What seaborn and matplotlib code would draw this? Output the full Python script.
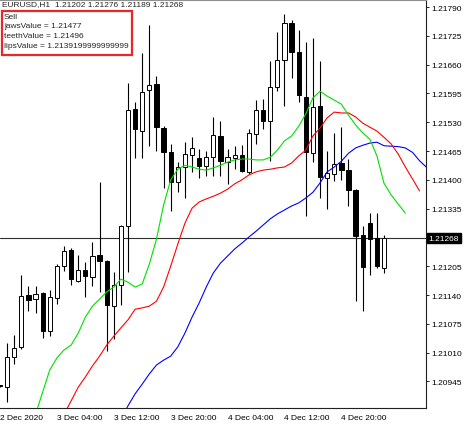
import numpy as np
import matplotlib
matplotlib.use("Agg")
import matplotlib.pyplot as plt
import matplotlib.transforms as mtransforms
from matplotlib.patches import Rectangle
import seaborn as sns

# EURUSD H1 candles (2 Dec 2020 20:00 onward)
opens = [1.20936, 1.20932, 1.21000, 1.21023, 1.21140, 1.21131, 1.21145, 1.21059, 1.21133, 1.21205,
         1.21242, 1.21172, 1.21196, 1.21181, 1.21230, 1.21217, 1.21115, 1.21163, 1.21296, 1.21560,
         1.21510, 1.21603, 1.21616, 1.21517, 1.21463, 1.21395, 1.21429, 1.21456, 1.21449, 1.21431,
         1.21451, 1.21499, 1.21440, 1.21449, 1.21456, 1.21418, 1.21503, 1.21558, 1.21533, 1.21609,
         1.21670, 1.21754, 1.21688, 1.21587, 1.21460, 1.21567, 1.21404, 1.21413, 1.21438, 1.21422,
         1.21377, 1.21275, 1.21302, 1.21269, 1.21202]
highs = [1.20938, 1.21032, 1.21050, 1.21185, 1.21160, 1.21160, 1.21147, 1.21151, 1.21210, 1.21251,
         1.21246, 1.21230, 1.21215, 1.21260, 1.21395, 1.21220, 1.21192, 1.21298, 1.21618, 1.21576,
         1.21686, 1.21749, 1.21634, 1.21521, 1.21481, 1.21440, 1.21485, 1.21497, 1.21470, 1.21465,
         1.21542, 1.21533, 1.21470, 1.21476, 1.21479, 1.21515, 1.21580, 1.21582, 1.21668, 1.21734,
         1.21774, 1.21761, 1.21738, 1.21711, 1.21720, 1.21668, 1.21465, 1.21506, 1.21519, 1.21447,
         1.21379, 1.21296, 1.21326, 1.21326, 1.21276]
lows = [1.20932, 1.20898, 1.20984, 1.21018, 1.21104, 1.21099, 1.21043, 1.21047, 1.21120, 1.21194,
        1.21163, 1.21169, 1.21136, 1.21160, 1.21147, 1.21014, 1.21041, 1.21117, 1.21192, 1.21449,
        1.21449, 1.21476, 1.21465, 1.21381, 1.21330, 1.21372, 1.21359, 1.21418, 1.21404, 1.21409,
        1.21409, 1.21409, 1.21391, 1.21424, 1.21418, 1.21413, 1.21481, 1.21515, 1.21442, 1.21600,
        1.21567, 1.21630, 1.21576, 1.21318, 1.21440, 1.21359, 1.21334, 1.21397, 1.21400, 1.21341,
        1.21126, 1.21104, 1.21186, 1.21201, 1.21189]
closes = [1.20934, 1.21000, 1.21020, 1.21138, 1.21129, 1.21142, 1.21059, 1.21135, 1.21205, 1.21239,
          1.21176, 1.21196, 1.21183, 1.21228, 1.21217, 1.21117, 1.21163, 1.21296, 1.21558, 1.21515,
          1.21598, 1.21614, 1.21519, 1.21463, 1.21395, 1.21429, 1.21458, 1.21472, 1.21431, 1.21451,
          1.21501, 1.21442, 1.21451, 1.21456, 1.21420, 1.21506, 1.21558, 1.21533, 1.21609, 1.21670,
          1.21754, 1.21688, 1.21591, 1.21463, 1.21564, 1.21406, 1.21415, 1.21436, 1.21422, 1.21377,
          1.21273, 1.21203, 1.21266, 1.21205, 1.21268]

# Alligator lines (already shifted forward), first bar index of each
lips_start = 5
lips = [1.20871, 1.20921, 1.20971, 1.20998, 1.21016, 1.21027, 1.21054, 1.21090, 1.21115, 1.21131,
        1.21147, 1.21158, 1.21176, 1.21169, 1.21158, 1.21165, 1.21210, 1.21266, 1.21343, 1.21400,
        1.21424, 1.21433, 1.21429, 1.21424, 1.21422, 1.21427, 1.21433, 1.21440, 1.21445, 1.21447,
        1.21447, 1.21445, 1.21445, 1.21451, 1.21467, 1.21488, 1.21499, 1.21521, 1.21549, 1.21585,
        1.21600, 1.21589, 1.21580, 1.21571, 1.21546, 1.21524, 1.21506, 1.21492, 1.21454, 1.21392,
        1.21366, 1.21345, 1.21325]
teeth_start = 9
teeth = [1.20871, 1.20901, 1.20932, 1.20955, 1.20980, 1.21002, 1.21027, 1.21047, 1.21066, 1.21084,
         1.21108, 1.21111, 1.21115, 1.21126, 1.21158, 1.21205, 1.21255, 1.21302, 1.21336, 1.21350,
         1.21357, 1.21363, 1.21370, 1.21379, 1.21391, 1.21400, 1.21411, 1.21418, 1.21422, 1.21424,
         1.21427, 1.21429, 1.21438, 1.21454, 1.21467, 1.21499, 1.21517, 1.21540, 1.21553, 1.21551,
         1.21551, 1.21542, 1.21528, 1.21519, 1.21510, 1.21496, 1.21481, 1.21458, 1.21429, 1.21402,
         1.21375]
jaws_start = 17
jaws = [1.20860, 1.20890, 1.20917, 1.20939, 1.20962, 1.20982, 1.20993, 1.21002, 1.21023, 1.21054,
        1.21090, 1.21122, 1.21158, 1.21190, 1.21212, 1.21228, 1.21244, 1.21257, 1.21271, 1.21284,
        1.21298, 1.21312, 1.21323, 1.21332, 1.21341, 1.21348, 1.21359, 1.21372, 1.21393, 1.21418,
        1.21429, 1.21442, 1.21460, 1.21472, 1.21478, 1.21483, 1.21485, 1.21477, 1.21476, 1.21475,
        1.21472, 1.21462, 1.21443, 1.21428, 1.21418, 1.21408]

last_price = 1.21268
ytick_vals = [1.21790, 1.21725, 1.21660, 1.21595, 1.21530, 1.21465, 1.21400, 1.21335,
              1.21205, 1.21140, 1.21075, 1.21010, 1.20945]
xtick_pos = [0, 8, 16, 24, 32, 40, 48]
xtick_labels = ["2 Dec 2020", "3 Dec 04:00", "3 Dec 12:00", "3 Dec 20:00",
                "4 Dec 04:00", "4 Dec 12:00", "4 Dec 20:00"]
header = "EURUSD,H1  1.21202 1.21276 1.21189 1.21268"
info_lines = ["Sell", "jawsValue = 1.21477", "teethValue = 1.21496",
              "lipsValue = 1.2139199999999999"]

sns.set_style("white")
plt.rcParams["font.family"] = ["Liberation Sans", "DejaVu Sans"]

W, H = 474, 427
fig = plt.figure(figsize=(W / 100, H / 100), dpi=100)
ax = fig.add_axes([0, 1 - 409 / H, 426 / W, 408 / H])

idx = np.arange(len(opens))
o = np.array(opens); c = np.array(closes)

ax.axhline(last_price, color="#303030", lw=0.8, zorder=1)

# candles
ax.vlines(idx, lows, highs, color="black", lw=0.8, zorder=2)
bottoms = np.minimum(o, c)
heights = np.maximum(np.abs(c - o), 0.000012)
faces = ["white" if cc >= oo else "black" for oo, cc in zip(o, c)]
ax.bar(idx, heights, bottom=bottoms, width=0.6, color=faces,
       edgecolor="black", linewidth=0.7, zorder=3)

# alligator
sns.lineplot(x=np.arange(jaws_start, jaws_start + len(jaws)), y=jaws,
             color="#0000ff", lw=0.8, ax=ax, zorder=4)
sns.lineplot(x=np.arange(teeth_start, teeth_start + len(teeth)), y=teeth,
             color="#ff0000", lw=0.8, ax=ax, zorder=4)
sns.lineplot(x=np.arange(lips_start, lips_start + len(lips)), y=lips,
             color="#00e000", lw=0.8, ax=ax, zorder=4)

ax.set_xlim(0, 59.9)
ax.set_ylim(1.20885, 1.21806)

ax.yaxis.tick_right()
ax.set_yticks(ytick_vals)
ax.set_yticklabels([f"{v:.5f}" for v in ytick_vals])
ax.set_xticks(xtick_pos)
ax.set_xticklabels(xtick_labels, ha="left")
ax.tick_params(axis="both", direction="out", length=2.5, width=0.6,
               labelsize=6, pad=1.5, colors="black")
ax.tick_params(axis="x", pad=2)
ax.tick_params(axis="y", left=False, right=True)
ax.set_xlabel(""); ax.set_ylabel("")

for side in ["top", "right", "bottom"]:
    ax.spines[side].set_visible(True)
    ax.spines[side].set_color("#202020")
    ax.spines[side].set_linewidth(0.8)
ax.spines["left"].set_visible(False)
ax.spines["top"].set_color("#909090")

# current price tag
trans = mtransforms.blended_transform_factory(ax.transAxes, ax.transData)
ax.text(1.006, last_price, f"{last_price:.5f}", transform=trans, fontsize=6,
        color="white", va="center", ha="left",
        bbox=dict(boxstyle="square,pad=0.2", fc="black", ec="black"))

# header and info box
fig.text(2 / W, 1 - 5 / H, header, fontsize=6, va="center", ha="left")
fig.add_artist(Rectangle((2 / W, 1 - 56 / H), 130 / W, 44 / H, transform=fig.transFigure,
                         fill=False, edgecolor="#e8262b", linewidth=1.6))
for k, line in enumerate(info_lines):
    fig.text(4 / W, 1 - (17.5 + 9.5 * k) / H, line, fontsize=6, va="center", ha="left")

fig.savefig("out.png", dpi=100, facecolor="white")
